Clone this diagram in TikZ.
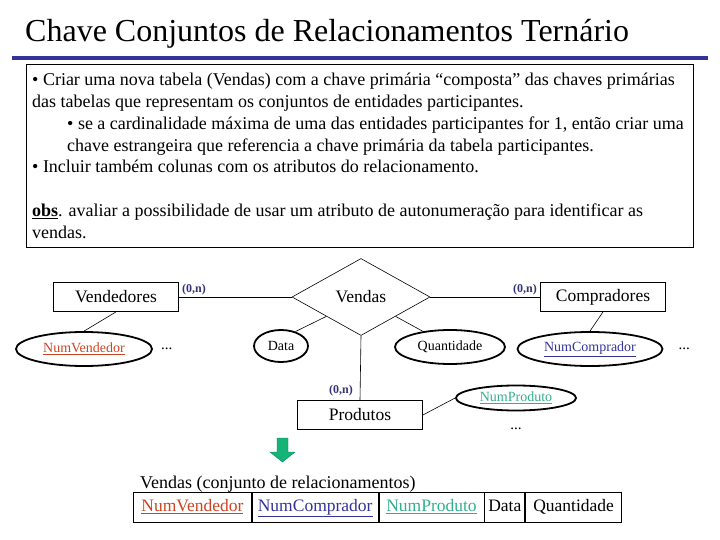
\documentclass[tikz,border=0pt]{standalone}
\usepackage{fontspec}
\setmainfont{Liberation Serif}
\usetikzlibrary{positioning,shapes.geometric}

\definecolor{rulecol}{RGB}{51, 51, 153}
\definecolor{vendcol}{RGB}{204, 68, 34}
\definecolor{compcol}{RGB}{51, 51, 153}
\definecolor{prodcol}{RGB}{51, 175, 140}
\definecolor{cardcol}{RGB}{51, 51, 119}
\definecolor{arrowfill}{RGB}{20, 180, 120}
\definecolor{arrowline}{RGB}{15, 130, 90}

\newcommand{\fsz}[1]{\fontsize{#1}{#1}\selectfont}

\begin{document}
\begin{tikzpicture}[x=1pt, y=-1pt,
    entity/.style={draw, line width=0.8pt, minimum width=125pt, minimum height=29pt, inner sep=0pt, font=\fsz{17.5}},
    attrib/.style={draw, ellipse, line width=1.8pt, inner sep=0pt, font=\fsz{14}},
    relation/.style={draw, diamond, aspect=1.8, line width=0.6pt, minimum width=138pt, minimum height=77pt, inner sep=0pt, font=\fsz{17.5}},
    card/.style={text=cardcol, font=\bfseries\fsz{12}, inner sep=1pt},
    dots/.style={font=\fsz{15}, inner sep=0pt},
    link/.style={line width=0.6pt},
    cell/.style={draw, line width=0.8pt, minimum height=30pt, text height=12pt, text depth=4pt, inner sep=0pt, font=\fsz{17.5}}]
    \useasboundingbox (0,0) rectangle (720,540);

    % Title and rule
    \node[anchor=base west, inner sep=0pt, font=\fsz{32}] (title) at (25,42) {Chave Conjuntos de Relacionamentos Ternário};
    \fill[rulecol] (12,56) rectangle (708,60);

    % Text box
    \draw[line width=0.8pt] (26,64) rectangle (693,247);
    \node[anchor=north west, inner sep=0pt, align=left, font=\fontsize{18}{21.8}\selectfont] (rules) at (32,73)
        {• Criar uma nova tabela (Vendas) com a chave primária “composta” das chaves primárias\\
         das tabelas que representam os conjuntos de entidades participantes.\\
         \hspace*{35pt}• se a cardinalidade máxima de uma das entidades participantes for 1, então criar uma\\
         \hspace*{35pt}chave estrangeira que referencia a chave primária da tabela participantes.\\
         • Incluir também colunas com os atributos do relacionamento.\\[21.8pt]
         \textbf{\underline{obs}}. avaliar a possibilidade de usar um atributo de autonumeração para identificar as\\
         vendas.};

    % ER diagram
    \node[relation] (vendas) at (361,297) {Vendas};
    \node[entity] (vendedores) at (116,297) {Vendedores};
    \node[entity] (compradores) at (603,297) {Compradores};
    \node[entity] (produtos) at (360,415) {Produtos};

    \node[attrib, minimum width=136pt, minimum height=34pt, text=vendcol] (numvend) at (84,349) {\underline{NumVendedor}};
    \node[attrib, minimum width=54pt, minimum height=32pt] (data) at (281,346) {Data};
    \node[attrib, minimum width=110pt, minimum height=34pt] (quant) at (450,347) {Quantidade};
    \node[attrib, minimum width=145pt, minimum height=34pt, text=compcol] (numcomp) at (590,349) {\underline{NumComprador}};
    \node[attrib, minimum width=120pt, minimum height=25pt, text=prodcol] (numprod) at (516,398) {\underline{NumProduto}};

    \node[dots, right=8pt of numvend] (dotsvend) {...};
    \node[dots, right=15pt of numcomp] (dotscomp) {...};
    \node[dots, below=16pt of numprod] (dotsprod) {...};

    % Connectors
    \draw[link] (vendedores.east) -- (vendas.west);
    \draw[link] (vendas.east) -- (compradores.west);
    \draw[link] (vendas.south) -- (produtos.north);
    \draw[link] (numvend.north) -- (vendedores.south);
    \draw[link] (numcomp.north) -- (compradores.south);
    \draw[link] (numprod.west) -- (produtos.east);
    \draw[link] (data.45) -- (vendas.south west);
    \draw[link] (quant.150) -- (vendas.south east);

    % Cardinalities
    \node[card, above right=1pt and 2pt of vendedores.east] (cardvend) {(0,n)};
    \node[card, above left=1pt and 2pt of compradores.west] (cardcomp) {(0,n)};
    \node[card, above left=3pt and 6pt of produtos.north] (cardprod) {(0,n)};

    % Arrow down to the table
    \filldraw[fill=arrowfill, draw=arrowline, line width=0.4pt] (277,438) -- (288,438) -- (288,452) -- (295,452)
        -- (282.5,462) -- (270,452) -- (277,452) -- cycle;

    % Resulting table
    \node[anchor=base west, inner sep=0pt, font=\fsz{18}] (tabtitle) at (140,488) {Vendas (conjunto de relacionamentos)};
    \node[cell, minimum width=118pt, anchor=north west, text=vendcol] (c1) at (133,492) {\underline{NumVendedor}};
    \node[cell, minimum width=126pt, right=0pt of c1, text=compcol] (c2) {\underline{NumComprador}};
    \node[cell, minimum width=105pt, right=0pt of c2, text=prodcol] (c3) {\underline{NumProduto}};
    \node[cell, minimum width=40pt, right=0pt of c3] (c4) {Data};
    \node[cell, minimum width=96pt, right=0pt of c4] (c5) {Quantidade};

\end{tikzpicture}
\end{document}
